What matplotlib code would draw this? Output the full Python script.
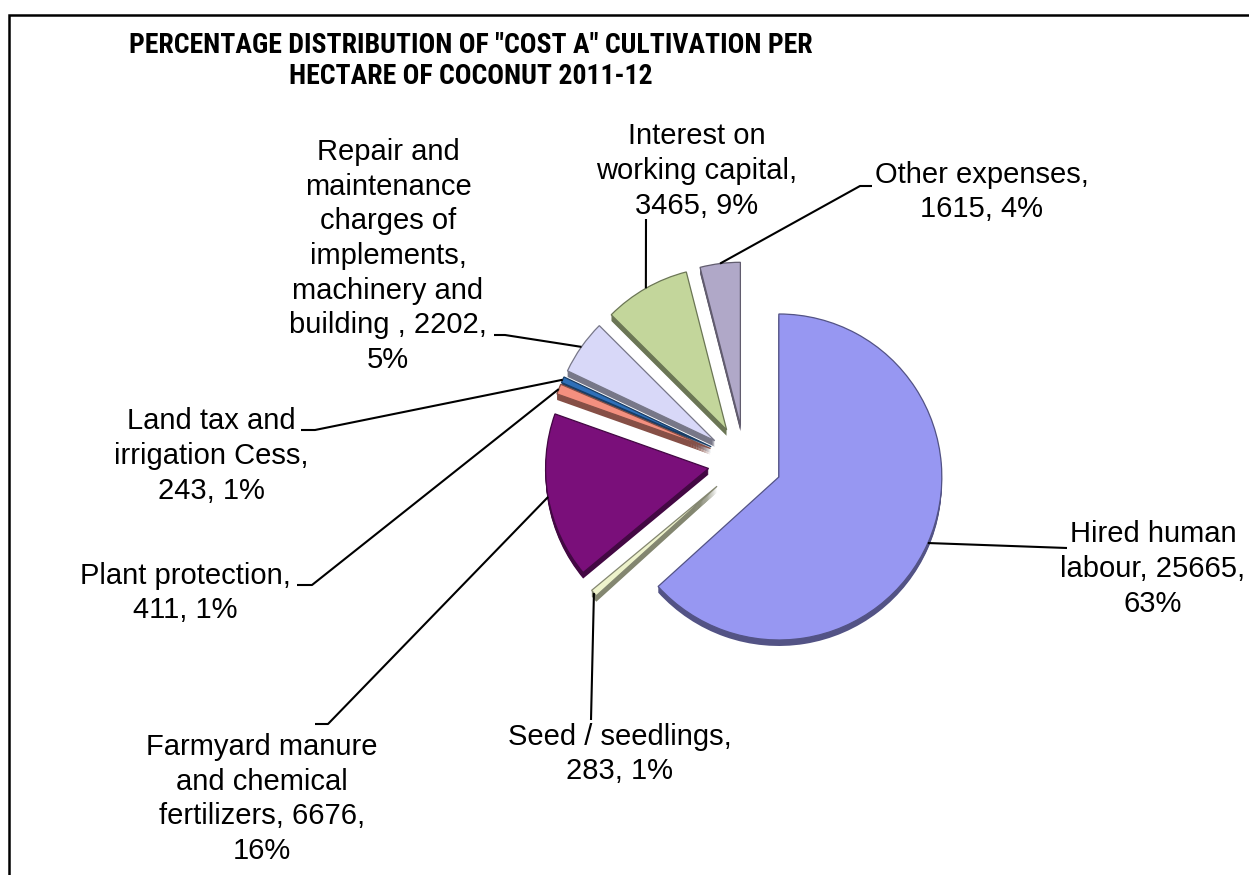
import numpy as np
import matplotlib
matplotlib.use("Agg")
import matplotlib.pyplot as plt
from matplotlib import font_manager
from matplotlib.patches import Rectangle
import matplotlib.colors as mcolors

# ---------------- data ----------------
categories = [
    "Hired human\nlabour",
    "Seed / seedlings",
    "Farmyard manure\nand chemical\nfertilizers",
    "Plant protection",
    "Land tax and\nirrigation Cess",
    "Repair and\nmaintenance\ncharges of\nimplements,\nmachinery and\nbuilding ",
    "Interest on\nworking capital",
    "Other expenses",
]
values = [25665, 283, 6676, 411, 243, 2202, 3465, 1615]
# separators used by the data labels: (name -> value, value -> percent)
sep_name = [", ", ",\n", ", ", ",\n", ",\n", ", ", ",\n", ",\n"]
sep_val = [",\n", ", ", ",\n", ", ", ", ", ",\n", ", ", ", "]
face_colors = ["#9797F2", "#EEF3CC", "#7A0F7A", "#F4907F",
               "#2E6FB8", "#D8D8F8", "#C3D69B", "#B0A8C8"]
title = 'PERCENTAGE DISTRIBUTION OF "COST A" CULTIVATION PER\nHECTARE OF COCONUT 2011-12'

# ---------------- layout ----------------
W, H = 1249, 875
fig = plt.figure(figsize=(W / 100, H / 100), dpi=100)
ax = fig.add_axes([0, 0, 1, 1])


def Y(y):  # screen pixel row -> data y (y up)
    return H - y


fonts = font_manager.fontManager.ttflist
names = {f.name for f in fonts}
label_font = "Liberation Sans" if "Liberation Sans" in names else "DejaVu Sans"

# condensed bold font for the title if one is installed
title_font, title_stretch = label_font, "normal"
for cand in ["Liberation Sans Narrow", "Roboto Condensed", "Open Sans Condensed",
             "DejaVu Sans Condensed", "Arial Narrow"]:
    if cand in names:
        title_font = cand
        break
else:
    for f in fonts:
        if f.name == "DejaVu Sans" and str(f.stretch) in ("condensed", "semi-condensed") \
                and f.weight in ("bold", 700):
            title_font, title_stretch = "DejaVu Sans", "condensed"
            break

cx, cy = 745, Y(462)
radius = 163
explode = [37] * len(values)   # offset of every slice, pixels
depth = 6


def shade(c, f):
    r, g, b = mcolors.to_rgb(c)
    return (r * f, g * f, b * f)


side_colors = [shade(c, 0.55) for c in face_colors]
edge_colors = [shade(c, 0.55) for c in face_colors]

# 3D side (extrusion)
for d in range(depth, 0, -1):
    ax.pie(values, colors=side_colors, startangle=90, counterclock=False,
           explode=explode, radius=radius, center=(cx, cy - d),
           wedgeprops=dict(linewidth=0), frame=True)

wedges, _ = ax.pie(values, colors=face_colors, startangle=90, counterclock=False,
                   explode=explode, radius=radius, center=(cx, cy),
                   wedgeprops=dict(linewidth=0.9), frame=True)
for w, ec in zip(wedges, edge_colors):
    w.set_edgecolor(ec)

ax.set_xlim(0, W)
ax.set_ylim(0, H)
ax.set_aspect("auto")
ax.axis("off")

# frame
ax.add_patch(Rectangle((9, -20), W + 50, Y(15) + 20, fill=False,
                       edgecolor="black", linewidth=1.8))

# title, sized to the reference width
t = ax.text(471, Y(61), title, ha="center", va="center", fontsize=20,
            fontweight="bold", family=title_font, fontstretch=title_stretch,
            linespacing=1.18)
fig.canvas.draw()
tw = t.get_window_extent().width
t.set_fontsize(20 * 683.0 / tw)

# data labels
total = sum(values)
label_pos = [(1153, 569), (620, 754), (262, 799), (185, 593),
             (211, 456), (388, 256), (697, 171), (982, 192)]
# leader path points from label side (end, elbow) in screen px
leader_pts = [
    [(1067, 548)],
    [(591, 720)],
    [(315, 724), (328, 724)],
    [(297, 585), (312, 585)],
    [(301, 430), (315, 430)],
    [(494, 335), (505, 335)],
    [(646, 219)],
    [(872, 186), (860, 186)],
]

for i, (name, v) in enumerate(zip(categories, values)):
    pct = int(round(v / total * 100))
    txt = f"{name}{sep_name[i]}{v}{sep_val[i]}{pct}%"
    x, y = label_pos[i]
    ax.text(x, Y(y), txt, ha="center", va="center", multialignment="center",
            fontsize=21, family=label_font, linespacing=1.3)
    w = wedges[i]
    th = np.deg2rad((w.theta1 + w.theta2) / 2)
    px = w.center[0] + w.r * np.cos(th)
    py = w.center[1] + w.r * np.sin(th)
    pts = [(px, py)] + [(a, Y(b)) for a, b in reversed(leader_pts[i])]
    xs, ys = zip(*pts)
    ax.plot(xs, ys, color="black", linewidth=1.5, solid_capstyle="butt")

fig.savefig("out.png", dpi=100)
